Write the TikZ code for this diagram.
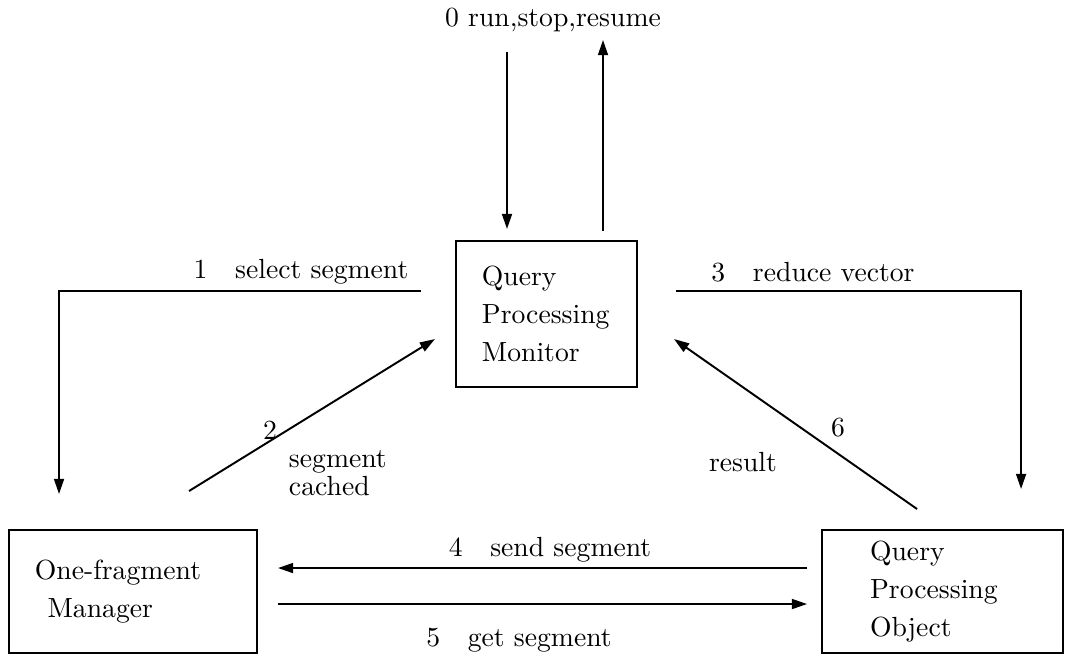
\documentclass[tikz,border=0pt]{standalone}
\usepackage{tikz}
\usetikzlibrary{arrows.meta,calc,positioning}

\begin{document}
\begin{tikzpicture}[x=1.27cm,y=1.27cm,line width=0.7pt,
	box/.style={draw,align=left,inner ysep=0pt,font=\fontsize{10}{13.7}\selectfont},
	arr/.style={-{Triangle[length=5.5pt,width=3.6pt]}},
	lbl/.style={inner sep=0pt,font=\fontsize{10}{8.8}\selectfont}]
	\useasboundingbox (0,0) rectangle (10.74,6.62);
	% the three processes
	\node[box,text width=1.64cm,inner xsep=0.33cm,minimum height=1.854cm] (qpm) at (5.465,3.48)
		{Query\\Processing\\Monitor};
	\node[box,text width=2.49cm,inner xsep=0.33cm,minimum height=1.562cm] (ofm) at (1.33,0.705)
		{One-fragment\\\hspace*{1.6mm}Manager};
	\node[box,text width=1.84cm,inner xsep=0.61cm,minimum height=1.562cm] (qpo) at (9.425,0.705)
		{Query\\Processing\\Object};
	% 0: control from outside
	\coordinate (cin) at (5.07,6.10);
	\coordinate (cout) at (6.03,6.22);
	\node[lbl] (l0) at (5.53,6.42) {0 run,stop,resume};
	\draw[arr] (cin) -- ($(cin |- qpm.north)+(0,0.11)$);
	\draw[arr] ($(cout |- qpm.north)+(0,0.09)$) -- (cout);
	% 1: select segment
	\draw[arr] ($(qpm.north west)+(-0.34,-0.51)$) -| ($(ofm.north west)+(0.51,0.35)$);
	\node[lbl] (l1) at (3.01,3.90) {1\quad select segment};
	% 2: segment cached
	\draw[arr] ($(ofm.north west)+(1.81,0.38)$) -- ($(qpm.north west)+(-0.20,-0.99)$);
	\node[lbl] (l2) at (2.70,2.32) {2};
	\node[lbl,align=left,anchor=west] (l2b) at (2.88,1.89) {segment\\cached};
	% 3: reduce vector
	\draw[arr] ($(qpm.north east)+(0.38,-0.51)$) -| ($(qpo.north west)+(2.00,0.40)$);
	\node[lbl] (l3) at (8.13,3.90) {3\quad reduce vector};
	% 4 and 5: segment exchange
	\draw[arr] ($(qpo.north west)+(-0.14,-0.39)$) -- ($(ofm.north east)+(0.20,-0.39)$);
	\node[lbl] (l4) at (5.50,1.12) {4\quad send segment};
	\draw[arr] ($(ofm.north east)+(0.20,-0.75)$) -- ($(qpo.north west)+(-0.14,-0.75)$);
	\node[lbl] (l5) at (5.19,0.22) {5\quad get segment};
	% 6: result
	\draw[arr] ($(qpo.north west)+(0.96,0.20)$) -- ($(qpm.north east)+(0.36,-0.99)$);
	\node[lbl] (l6) at (8.38,2.34) {6};
	\node[lbl] (l6b) at (7.43,2.00) {result};
\end{tikzpicture}
\end{document}
